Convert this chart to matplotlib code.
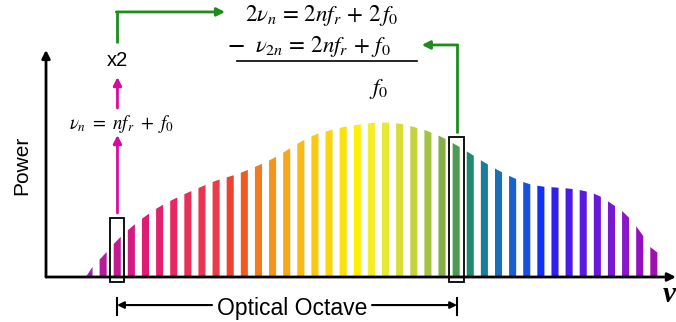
import numpy as np
import matplotlib
matplotlib.use("Agg")
import matplotlib.pyplot as plt
from matplotlib.patches import Rectangle

plt.rcParams['mathtext.fontset'] = 'stix'
plt.rcParams['font.family'] = ['Liberation Sans', 'DejaVu Sans']

# comb lines: index n and relative power of each tooth
modos = np.arange(41)
potencia = [0.045, 0.139, 0.242, 0.326, 0.397, 0.458, 0.506, 0.548, 0.587, 0.626,
            0.652, 0.684, 0.723, 0.765, 0.819, 0.877, 0.923, 0.948, 0.971, 0.985,
            0.997, 1.000, 0.994, 0.971, 0.945, 0.906, 0.855, 0.800, 0.742, 0.690,
            0.645, 0.606, 0.587, 0.581, 0.574, 0.561, 0.535, 0.477, 0.413, 0.303,
            0.161]

colores = ['#9c22aa', '#b41c9c', '#c41a90', '#d41a84', '#de1c78', '#e4206c', '#e82862',
           '#ea2e5a', '#ea3452', '#ec3a48', '#ee4232', '#f05c20', '#f27a1e', '#f4941c',
           '#f6a81a', '#f8ba16', '#f9c912', '#fad50f', '#fbe00c', '#fff000', '#f2ee2a',
           '#e6e832', '#d6de36', '#c4d23c', '#a6c242', '#84ae48', '#4e9a50', '#1e8a72',
           '#1a7e98', '#1a70b8', '#1a60cc', '#1850e0', '#1030f8', '#3020f0', '#4a1ae8',
           '#5c1ae0', '#6a18d8', '#7818d0', '#8818c8', '#9210c0', '#a010b0']

# teeth used for the f-2f beat (n and 2n)
modo_n = 2
modo_2n = 26

ancho = 0.25  # half width of a tooth

fig = plt.figure(figsize=(6.76, 3.22), dpi=100)
ax = fig.add_axes([0, 0, 1, 1])
ax.set_xlim(-6.268, 41.605)
ax.set_ylim(-0.2903, 1.787)
ax.axis('off')

# teeth, top edge follows the spectral envelope
for n, c in zip(modos, colores):
    xs = np.array([n - ancho, n + ancho])
    tope = np.interp(xs, modos, potencia, left=0)
    ax.fill_between(xs, 0, tope, color=c, lw=0)

# axes with arrows
ax.annotate('', xy=(41.6, 0), xytext=(-3.01, 0),
            arrowprops=dict(arrowstyle='-|>', color='black', lw=2,
                            mutation_scale=12, shrinkA=0, shrinkB=0))
ax.annotate('', xy=(-3.01, 1.465), xytext=(-3.01, 0),
            arrowprops=dict(arrowstyle='-|>', color='black', lw=2,
                            mutation_scale=12, shrinkA=0, shrinkB=0))
ax.text(-4.7, 0.72, 'Power', rotation=90, fontsize=15, ha='center', va='center')
ax.text(41.55, -0.11, 'ν', fontsize=21, family='Liberation Serif',
        style='italic', weight='bold', ha='right', va='center')

# boxes around the two teeth
ax.add_patch(Rectangle((modo_n - 0.5, -0.032), 1.0, 0.413, fill=False,
                       ec='black', lw=1.3))
ax.add_patch(Rectangle((modo_2n - 0.5, -0.032), 1.06, 0.935, fill=False,
                       ec='black', lw=1.3))

# doubling branch (magenta)
magenta = '#d80c9c'
ax.annotate('', xy=(2.05, 0.916), xytext=(2.05, 0.413),
            arrowprops=dict(arrowstyle='-|>', color=magenta, lw=2,
                            mutation_scale=12, shrinkA=0, shrinkB=0))
ax.annotate('', xy=(2.05, 1.29), xytext=(2.05, 1.09),
            arrowprops=dict(arrowstyle='-|>', color=magenta, lw=2,
                            mutation_scale=12, shrinkA=0, shrinkB=0))
ax.text(2.34, 0.99, r'$\nu_n\ =\ nf_r\ +\ f_0$', fontsize=13.5, ha='center', va='center')
ax.text(2.02, 1.394, 'x2', fontsize=14.5, ha='center', va='center')

# green paths to the beat equation
verde = '#1c8c1c'
ax.plot([2.02, 2.02], [1.51, 1.71], color=verde, lw=2, solid_capstyle='butt')
ax.annotate('', xy=(9.67, 1.71), xytext=(1.97, 1.71),
            arrowprops=dict(arrowstyle='-|>', color=verde, lw=2,
                            mutation_scale=12, shrinkA=0, shrinkB=0))
ax.plot([26.1, 26.1], [0.929, 1.497], color=verde, lw=2, solid_capstyle='butt')
ax.annotate('', xy=(23.6, 1.497), xytext=(26.15, 1.497),
            arrowprops=dict(arrowstyle='-|>', color=verde, lw=2,
                            mutation_scale=12, shrinkA=0, shrinkB=0))

# f-2f beat
ax.text(16.5, 1.684, r'$2\nu_n\, =\, 2nf_r\, +\, 2\,f_0$', fontsize=16.5,
        ha='center', va='center')
ax.text(15.62, 1.487, r'$\mathbf{-}\ \ \nu_{2n}\, =\, 2nf_r\, +\, f_0$', fontsize=16.5,
        ha='center', va='center')
ax.plot([10.52, 23.27], [1.394, 1.394], color='black', lw=1.2)
ax.text(20.57, 1.213, r'$f_0$', fontsize=16.5, ha='center', va='center')

# optical octave span
ax.plot([2.02, 2.02], [-0.135, -0.245], color='black', lw=1.5)
ax.plot([26.1, 26.1], [-0.135, -0.245], color='black', lw=1.5)
ax.annotate('', xy=(2.02, -0.181), xytext=(8.75, -0.181),
            arrowprops=dict(arrowstyle='-|>', color='black', lw=1.5,
                            mutation_scale=10, shrinkA=0, shrinkB=0))
ax.annotate('', xy=(26.1, -0.181), xytext=(20.08, -0.181),
            arrowprops=dict(arrowstyle='-|>', color='black', lw=1.5,
                            mutation_scale=10, shrinkA=0, shrinkB=0))
ax.text(14.4, -0.245, 'Optical Octave', fontsize=16.5, ha='center', va='baseline')

fig.savefig('out.png', dpi=100)
